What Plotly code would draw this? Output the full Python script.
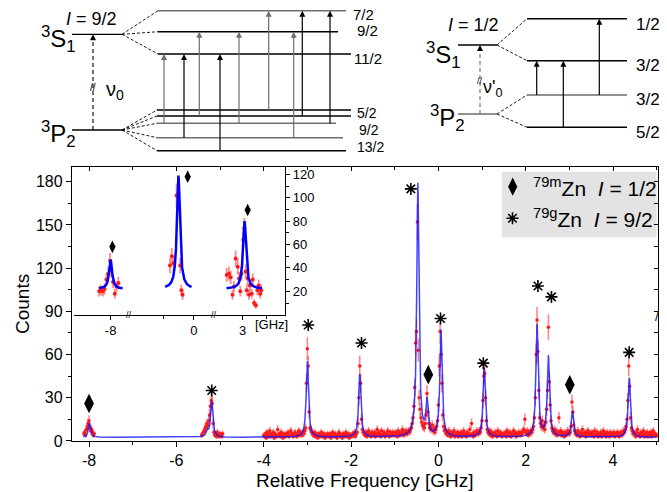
import numpy as np
import plotly.graph_objects as go

W, H = 667, 492
FONT = "Liberation Sans, Arial, Helvetica, sans-serif"

# ---------------- main spectrum data ----------------
scan1_start, scan1_step = -8.12, 0.02
scan1_counts = [5, 6, 4, 8, 10, 12, 14, 9, 7, 8, 6, 4, 5]

scan2_start, scan2_step = -5.42, 0.02
scan2_counts = [4, 5, 6, 7, 9, 10, 12, 11, 14, 18, 24, 28, 26, 12, 6, 4, 5, 3, 6, 4, 3, 5, 4, 3, 5]

scan3_start, scan3_step = -4.00, 0.02
scan3_counts = [
    4, 3, 5, 2, 6, 4, 3, 7, 5, 3, 4, 6, 2, 5, 4, 3, 8, 4, 5, 3, 6, 4, 2, 5, 4,
    3, 5, 4, 6, 3, 4, 7, 5, 4, 3, 5, 6, 4, 3, 5, 7, 4, 6, 5, 4, 6, 5, 7, 9, 40,
    64, 52, 20, 9, 8, 6, 5, 4, 6, 3, 5, 4, 2, 5, 3, 4, 6, 3, 4, 5, 2, 4, 3, 5, 4,
    3, 5, 2, 4, 6, 3, 4, 5, 3, 2, 4, 6, 5, 3, 4, 2, 5, 4, 3, 6, 4, 3, 5, 2, 4,
    4, 3, 5, 4, 6, 3, 5, 6, 12, 30, 52, 40, 15, 8, 6, 5, 4, 6, 3, 5, 7, 4, 5, 3, 6,
    5, 4, 6, 3, 5, 8, 4, 6, 5, 3, 7, 4, 5, 6, 3, 4, 5, 7, 4, 3, 6, 5, 4, 6, 5,
    4, 6, 5, 3, 7, 5, 4, 6, 5, 8, 4, 6, 5, 7, 5, 6, 7, 6, 8, 9, 12, 16, 24, 37, 68,
    76, 152, 63, 30, 22, 16, 13, 11, 10, 9, 12, 18, 33, 20, 12, 9, 10, 8, 11, 7, 9, 6, 8, 10, 14,
    25, 52, 76, 60, 40, 18, 10, 7, 8, 5, 6, 4, 7, 5, 3, 6, 4, 5, 7, 3, 5, 4, 6, 3, 5,
    4, 6, 3, 5, 7, 4, 5, 3, 6, 4, 5, 8, 4, 12, 5, 3, 6, 4, 5, 7, 6, 5, 7, 6, 9,
    14, 28, 45, 47, 30, 14, 8, 6, 5, 7, 4, 6, 3, 5, 4, 6, 5, 3, 7, 4, 5, 6, 4, 3, 5,
    5, 4, 6, 3, 7, 5, 4, 6, 3, 5, 4, 7, 5, 6, 3, 5, 4, 6, 5, 4, 6, 5, 7, 8, 15,
    6, 5, 7, 4, 6, 5, 7, 6, 8, 10, 16, 30, 60, 84, 62, 35, 16, 12, 10, 14, 9, 11, 8, 13, 22,
    35, 79, 41, 25, 14, 9, 7, 6, 8, 5, 7, 4, 6, 16, 5, 7, 4, 6, 5, 3, 6, 4, 5, 7, 6,
    5, 6, 10, 27, 20, 11, 7, 5, 6, 4, 7, 5, 3, 6, 4, 8, 5, 4, 6, 3, 5, 7, 4, 6, 5,
    4, 6, 5, 3, 7, 4, 5, 6, 3, 5, 4, 6, 3, 5, 7, 4, 5, 3, 6, 4, 5, 3, 6, 4, 5,
    4, 6, 3, 5, 4, 6, 5, 3, 5, 6, 4, 5, 7, 6, 8, 10, 15, 28, 52, 38, 16, 9, 7, 5, 6,
    5, 3, 6, 8, 4, 5, 3, 6, 4, 5, 7, 3, 5, 4, 6, 3, 5, 4, 6, 3, 5, 7, 4, 5, 4,
    4,
]

# fitted hyperfine components (centre GHz, amplitude counts)
fit_centers = [-7.99, -5.29, -5.19, -3.00, -1.80, -0.47, -0.26, 0.06, 1.05, 2.26, 2.52, 3.07, 4.37]
fit_heights = [10, 4, 25, 53, 44, 176, 24, 74, 48, 78, 56, 18, 41]
fit_base = 2.5
fit_fwhm = 0.06
fit_range = (-8.13, 5.0)

# peak assignment markers
dia_x = [-8.00, -0.23, 3.01]
dia_y = [26, 46, 39]
ast_x = [-5.19, -2.98, -1.76, -0.63, 0.05, 1.03, 2.28, 2.59, 4.37]
ast_y = [35, 80.5, 68, 175, 85, 54, 107.6, 100, 61.5]

# ---------------- inset data (79mZn) ----------------
insA_x = [-8.19, -8.16, -8.13, -8.10, -8.07, -8.04, -8.01, -7.99, -7.96, -7.93, -7.90, -7.87]
insA_y = [20, 21, 20, 22, 30, 35, 46, 38, 28, 18, 24, 27]
insB_x = [-0.40, -0.37, -0.34, -0.29, -0.26, -0.23, -0.21, -0.19]
insB_y = [42, 50, 44, 102, 104, 42, 21, 17]
insC_x = [2.733, 2.77, 2.80, 2.83, 2.855, 2.883, 2.917, 2.94, 2.96, 2.98, 3.01, 3.027, 3.05,
          3.067, 3.083, 3.105, 3.12, 3.15, 3.167, 3.19, 3.22, 3.245, 3.267, 3.29, 3.31]
insC_y = [34, 35, 32, 17, 24, 48, 41, 31, 20, 35, 64, 74, 37, 21, 31, 17, 25, 18, 30, 10, 8, 21, 25, 18, 21]
ins_fit_base = 22
ins_fit_centers = [-8.00, -0.26, 3.03]
ins_fit_heights = [25, 97, 58]
ins_fit_ranges = [(-8.19, -7.80), (-0.48, -0.04), (2.73, 3.32)]
ins_dia_x = [-7.97, -0.105, 3.083]
ins_dia_y = [58, 118, 89.5]


def lorentz_sum(x, centers, heights, base, fwhm):
    y = np.full_like(x, base, dtype=float)
    for c, h in zip(centers, heights):
        y += h / (1 + (2 * (x - c) / fwhm) ** 2)
    return y


def scan_x(start, step, n):
    return start + step * np.arange(n)


fig = go.Figure()

# main data
red = "#ff1a1a"
for start, step, cnts in [(scan1_start, scan1_step, scan1_counts),
                          (scan2_start, scan2_step, scan2_counts),
                          (scan3_start, scan3_step, scan3_counts)]:
    xs = scan_x(start, step, len(cnts))
    ys = np.array(cnts, dtype=float)
    fig.add_trace(go.Scatter(
        x=xs, y=ys, mode="markers", xaxis="x", yaxis="y",
        marker=dict(color=red, size=3.5),
        error_y=dict(type="data", array=np.sqrt(ys), color="rgba(255,40,40,0.55)",
                     thickness=1.6, width=0),
        showlegend=False, hoverinfo="skip"))

xf = np.linspace(fit_range[0], fit_range[1], 7000)
fig.add_trace(go.Scatter(x=xf, y=lorentz_sum(xf, fit_centers, fit_heights, fit_base, fit_fwhm),
                         mode="lines", line=dict(color="rgba(20,20,255,0.8)", width=1.5),
                         xaxis="x", yaxis="y", showlegend=False, hoverinfo="skip"))

fig.add_trace(go.Scatter(x=dia_x, y=dia_y, mode="markers", xaxis="x", yaxis="y",
                         marker=dict(symbol="diamond-tall", size=14, color="black"),
                         showlegend=False))
fig.add_trace(go.Scatter(x=ast_x, y=ast_y, mode="markers", xaxis="x", yaxis="y",
                         marker=dict(symbol="asterisk-open", size=10, color="black",
                                     line=dict(color="black", width=1.6)),
                         showlegend=False))

# dummy trace for mirrored axes
fig.add_trace(go.Scatter(x=[None], y=[None], xaxis="x7", yaxis="y7", showlegend=False))

# inset
for ax, xs, ys, (r0, r1), dx, dy in [("x2", insA_x, insA_y, ins_fit_ranges[0], ins_dia_x[0], ins_dia_y[0]),
                                      ("x3", insB_x, insB_y, ins_fit_ranges[1], ins_dia_x[1], ins_dia_y[1]),
                                      ("x4", insC_x, insC_y, ins_fit_ranges[2], ins_dia_x[2], ins_dia_y[2])]:
    ys = np.array(ys, dtype=float)
    fig.add_trace(go.Scatter(
        x=xs, y=ys, mode="markers", xaxis=ax, yaxis="y2",
        marker=dict(color=red, size=4),
        error_y=dict(type="data", array=np.sqrt(ys), color="rgba(255,40,40,0.55)",
                     thickness=1.8, width=0),
        showlegend=False, hoverinfo="skip"))
    xi = np.linspace(r0, r1, 600)
    fig.add_trace(go.Scatter(x=xi, y=lorentz_sum(xi, ins_fit_centers, ins_fit_heights, ins_fit_base, fit_fwhm),
                             mode="lines", line=dict(color="#0000ff", width=2.5),
                             xaxis=ax, yaxis="y2", showlegend=False, hoverinfo="skip"))
    fig.add_trace(go.Scatter(x=[dx], y=[dy], mode="markers", xaxis=ax, yaxis="y2",
                             marker=dict(symbol="diamond-tall", size=9, color="black"),
                             showlegend=False))

# ---------------- level scheme (schematic, pixel-like frame) ----------------
GRAY = "#6e6e6e"
# left: I = 9/2
L_fs_x = (72, 122)
L_S_y, L_P_y = 34.3, 130.0
L_hf_x0 = 158
L_up_y = [10.7, 31.7, 54.0]
L_up_end = [346, 338, 351]
L_up_col = [GRAY, "black", "black"]
L_lo_y = [110.0, 116.0, 123.3, 137.7, 150.7]
L_lo_end = [351, 351, 336, 343, 346]
L_lo_col = ["black", "black", GRAY, GRAY, "black"]
L_arr_x = [164, 184, 199.3, 220, 239, 268.7, 293.7, 302.3, 330]
L_arr_lo = [2, 3, 1, 4, 2, 0, 3, 1, 2]
L_arr_up = [2, 2, 1, 2, 1, 0, 1, 0, 0]
L_arr_col = [GRAY, "black", GRAY, "black", GRAY, GRAY, GRAY, "black", "black"]
L_up_lab = ["7/2", "9/2", "11/2"]
L_up_lab_y = [14.5, 30.0, 58.5]
L_up_lab_x = [351, 355, 352]
L_lo_lab = ["5/2", "9/2", "13/2"]
L_lo_lab_y = [112.5, 130.0, 146.5]
L_lo_lab_x = [355, 357, 355]

# right: I = 1/2
R_fs_x = (458, 497)
R_S_y, R_P_y = 45.0, 114.0
R_hf_x0, R_hf_x1 = 527, 627
R_up_y = [18.7, 60.7]
R_lo_y = [95.0, 127.3]
R_up_col = ["black", "black"]
R_lo_col = [GRAY, "black"]
R_arr_x = [536.7, 563.3, 599.3]
R_arr_lo = [0, 1, 0]
R_arr_up = [1, 1, 0]
R_labels = ["1/2", "3/2", "3/2", "5/2"]
R_lab_y = [24.5, 65.0, 99.5, 132.5]
R_lab_x = 634


def seg(x0, y0, x1, y1, color="black", width=1.3, dash=None):
    fig.add_trace(go.Scatter(x=[x0, x1], y=[y0, y1], mode="lines", xaxis="x5", yaxis="y5",
                             line=dict(color=color, width=width, dash=dash),
                             showlegend=False, hoverinfo="skip"))


def head(x, y, color="black"):
    fig.add_trace(go.Scatter(x=[x], y=[y], mode="markers", xaxis="x5", yaxis="y5",
                             marker=dict(symbol="arrow-up", size=6, color=color, line=dict(width=0)),
                             showlegend=False, hoverinfo="skip"))


def arrow(x, y_from, y_to, color="black", width=1.2, dash=None):
    seg(x, y_from, x, y_to + 3, color=color, width=width, dash=dash)
    head(x, y_to, color)


# left scheme
seg(L_fs_x[0], L_S_y, L_fs_x[1], L_S_y)
seg(L_fs_x[0], L_P_y, L_fs_x[1], L_P_y)
for y in L_up_y:
    seg(L_fs_x[1], L_S_y, L_hf_x0, y, width=0.9, dash="3px,2px")
for y in L_lo_y:
    seg(L_fs_x[1], L_P_y, L_hf_x0 - 1, y, width=0.9, dash="3px,2px")
for y, e, c in zip(L_up_y, L_up_end, L_up_col):
    seg(L_hf_x0, y, e, y, color=c, width=1.5)
for y, e, c in zip(L_lo_y, L_lo_end, L_lo_col):
    seg(L_hf_x0 - 1, y, e, y, color=c, width=1.5)
for x, lo, up, c in zip(L_arr_x, L_arr_lo, L_arr_up, L_arr_col):
    arrow(x, L_lo_y[lo], L_up_y[up], c)
arrow(93, L_P_y, L_S_y, width=1.1, dash="4px,3px")

# right scheme
seg(R_fs_x[0], R_S_y, R_fs_x[1], R_S_y)
seg(R_fs_x[0], R_P_y, R_fs_x[1], R_P_y, color=GRAY)
for y in R_up_y:
    seg(R_fs_x[1], R_S_y, R_hf_x0, y, width=0.9, dash="3px,2px")
for y in R_lo_y:
    seg(R_fs_x[1], R_P_y, R_hf_x0, y, width=0.9, dash="3px,2px")
for y, c in zip(R_up_y, R_up_col):
    seg(R_hf_x0, y, R_hf_x1, y, color=c, width=1.5)
for y, c in zip(R_lo_y, R_lo_col):
    seg(R_hf_x0, y, R_hf_x1, y, color=c, width=1.5)
for x, lo, up in zip(R_arr_x, R_arr_lo, R_arr_up):
    arrow(x, R_lo_y[lo], R_up_y[up])
seg(480, R_P_y, 480, R_S_y + 3, color=GRAY, width=1.1, dash="4px,3px")
head(480, R_S_y)


def txt(x, y, s, size, xanchor="center", yanchor="middle", angle=0, ref="x5"):
    fig.add_annotation(x=x, y=y, xref=ref, yref="y5", text=s, showarrow=False,
                       font=dict(family=FONT, size=size, color="black"),
                       xanchor=xanchor, yanchor=yanchor, textangle=angle)


txt(91, 18.5, "<i>I</i> = 9/2", 18)
txt(58, 39, "<sup>3</sup>S<sub>1</sub>", 24)
txt(58, 134, "<sup>3</sup>P<sub>2</sub>", 24)
txt(115, 90, "ν<sub>0</sub>", 20)
txt(93, 87, "//", 10)
for s, y, x in zip(L_up_lab, L_up_lab_y, L_up_lab_x):
    txt(x, y, s, 15, xanchor="left")
for s, y, x in zip(L_lo_lab, L_lo_lab_y, L_lo_lab_x):
    txt(x, y, s, 14, xanchor="left")

txt(473, 25, "<i>I</i> = 1/2", 18)
txt(443, 55, "<sup>3</sup>S<sub>1</sub>", 24)
txt(447, 118, "<sup>3</sup>P<sub>2</sub>", 24)
txt(492, 88, "ν'<sub>0</sub>", 18)
txt(480, 81, "//", 9)
for s, y in zip(R_labels, R_lab_y):
    txt(R_lab_x, y, s, 17, xanchor="left")

# legend (manual)
leg_box = (501.7, 171.7, 656.7, 237.3)
fig.add_shape(type="rect", xref="paper", yref="paper",
              x0=leg_box[0] / W, x1=leg_box[2] / W, y0=1 - leg_box[3] / H, y1=1 - leg_box[1] / H,
              fillcolor="#e3e3e3", line=dict(width=0), layer="below")
fig.add_trace(go.Scatter(x=[512.7], y=[186.7], mode="markers", xaxis="x5", yaxis="y5",
                         marker=dict(symbol="diamond-tall", size=13, color="black"), showlegend=False))
fig.add_trace(go.Scatter(x=[512.5], y=[218.3], mode="markers", xaxis="x5", yaxis="y5",
                         marker=dict(symbol="asterisk-open", size=10, color="black",
                                     line=dict(color="black", width=1.6)),
                         showlegend=False))
txt(531, 186.7, "<sup>79m</sup>Zn\u00a0\u00a0<i>I</i> = 1/2", 21, xanchor="left")
txt(531, 218.3, "<sup>79g</sup>Zn\u00a0\u00a0<i>I</i> = 9/2", 21, xanchor="left")

# axis titles & break marks
txt(22, 304, "Counts", 19, angle=-90)
txt(365, 480, "Relative Frequency [GHz]", 19)
txt(271, 324, "[GHz]", 13)
txt(128.5, 314.7, "//", 9)
txt(213.5, 314.7, "//", 9)
txt(657, 316, "/", 13)

# ---------------- axes ----------------
MX = (72 / W, 658 / W)
MY = (1 - 440.9 / H, 1 - 167.3 / H)
IY = (1 - 314.7 / H, 1 - 167.3 / H)
x_major = [-8, -6, -4, -2, 0, 2, 4]
x_minor = [-7, -5, -3, -1, 1, 3, 5]
y_major = [0, 30, 60, 90, 120, 150, 180]
y_minor = [15, 45, 75, 105, 135, 165]
xr = [-8.39, 5.03]
yr = [0, 190]
tf = dict(family=FONT, size=16, color="black")
tf_in = dict(family=FONT, size=13, color="black")
common = dict(showgrid=False, zeroline=False, showline=True, linecolor="black", linewidth=1.3,
              tickcolor="black", tickwidth=1.2, automargin=False)

fig.update_layout(
    width=W, height=H, autosize=False,
    margin=dict(l=0, r=0, t=0, b=0, pad=0, autoexpand=False),
    paper_bgcolor="white", plot_bgcolor="rgba(0,0,0,0)", showlegend=False,
    xaxis=dict(domain=MX, range=xr, anchor="y", ticks="outside", ticklen=5,
               tickvals=x_major, ticktext=[str(v) for v in x_major], tickfont=tf,
               minor=dict(tickvals=x_minor, ticks="outside", ticklen=3, tickcolor="black"), **common),
    yaxis=dict(domain=MY, range=yr, anchor="x", ticks="outside", ticklen=5,
               tickvals=y_major, ticktext=[str(v) for v in y_major], tickfont=tf,
               minor=dict(tickvals=y_minor, ticks="outside", ticklen=3, tickcolor="black"), **common),
    xaxis7=dict(domain=MX, range=xr, anchor="y", overlaying="x", side="top", ticks="inside", ticklen=4,
                tickvals=x_major, showticklabels=False,
                minor=dict(tickvals=x_minor, ticks="inside", ticklen=3, tickcolor="black"), **common),
    yaxis7=dict(domain=MY, range=yr, anchor="x", overlaying="y", side="right", ticks="inside", ticklen=4,
                tickvals=y_major, showticklabels=False,
                minor=dict(tickvals=y_minor, ticks="inside", ticklen=4, tickcolor="black"), **common),
    xaxis2=dict(domain=(74 / W, 128 / W), range=[-8.61, -7.71], anchor="y2", ticks="outside", ticklen=4,
                tickvals=[-8], ticktext=["-8"], tickfont=tf_in, **common),
    xaxis3=dict(domain=(128 / W, 213 / W), range=[-1.1, 0.317], anchor="y2", ticks="outside", ticklen=4,
                tickvals=[0], ticktext=["0"], tickfont=tf_in,
                minor=dict(tickvals=[-0.5], ticks="outside", ticklen=3, tickcolor="black"), **common),
    xaxis4=dict(domain=(213 / W, 285 / W), range=[2.505, 3.705], anchor="y2", ticks="outside", ticklen=4,
                tickvals=[3], ticktext=["3"], tickfont=tf_in,
                minor=dict(tickvals=[3.4], ticks="outside", ticklen=3, tickcolor="black"), **common),
    yaxis2=dict(domain=IY, range=[0, 126], anchor="x4", side="right", ticks="outside", ticklen=4,
                tickvals=[20, 40, 60, 80, 100, 120], tickfont=tf_in,
                minor=dict(tickvals=[10, 30, 50, 70, 90, 110], ticks="outside", ticklen=3, tickcolor="black"),
                **common),
    xaxis5=dict(domain=(0, 1), range=[0, W], anchor="y5", visible=False, fixedrange=True, automargin=False),
    yaxis5=dict(domain=(0, 1), range=[H, 0], anchor="x5", visible=False, fixedrange=True, automargin=False),
)

POST = ("document.body.style.margin='0px';document.body.style.overflow='hidden';"
        "document.documentElement.style.overflow='hidden';")
fig.write_html("out.html", config={"responsive": False, "displayModeBar": False}, post_script=POST)
